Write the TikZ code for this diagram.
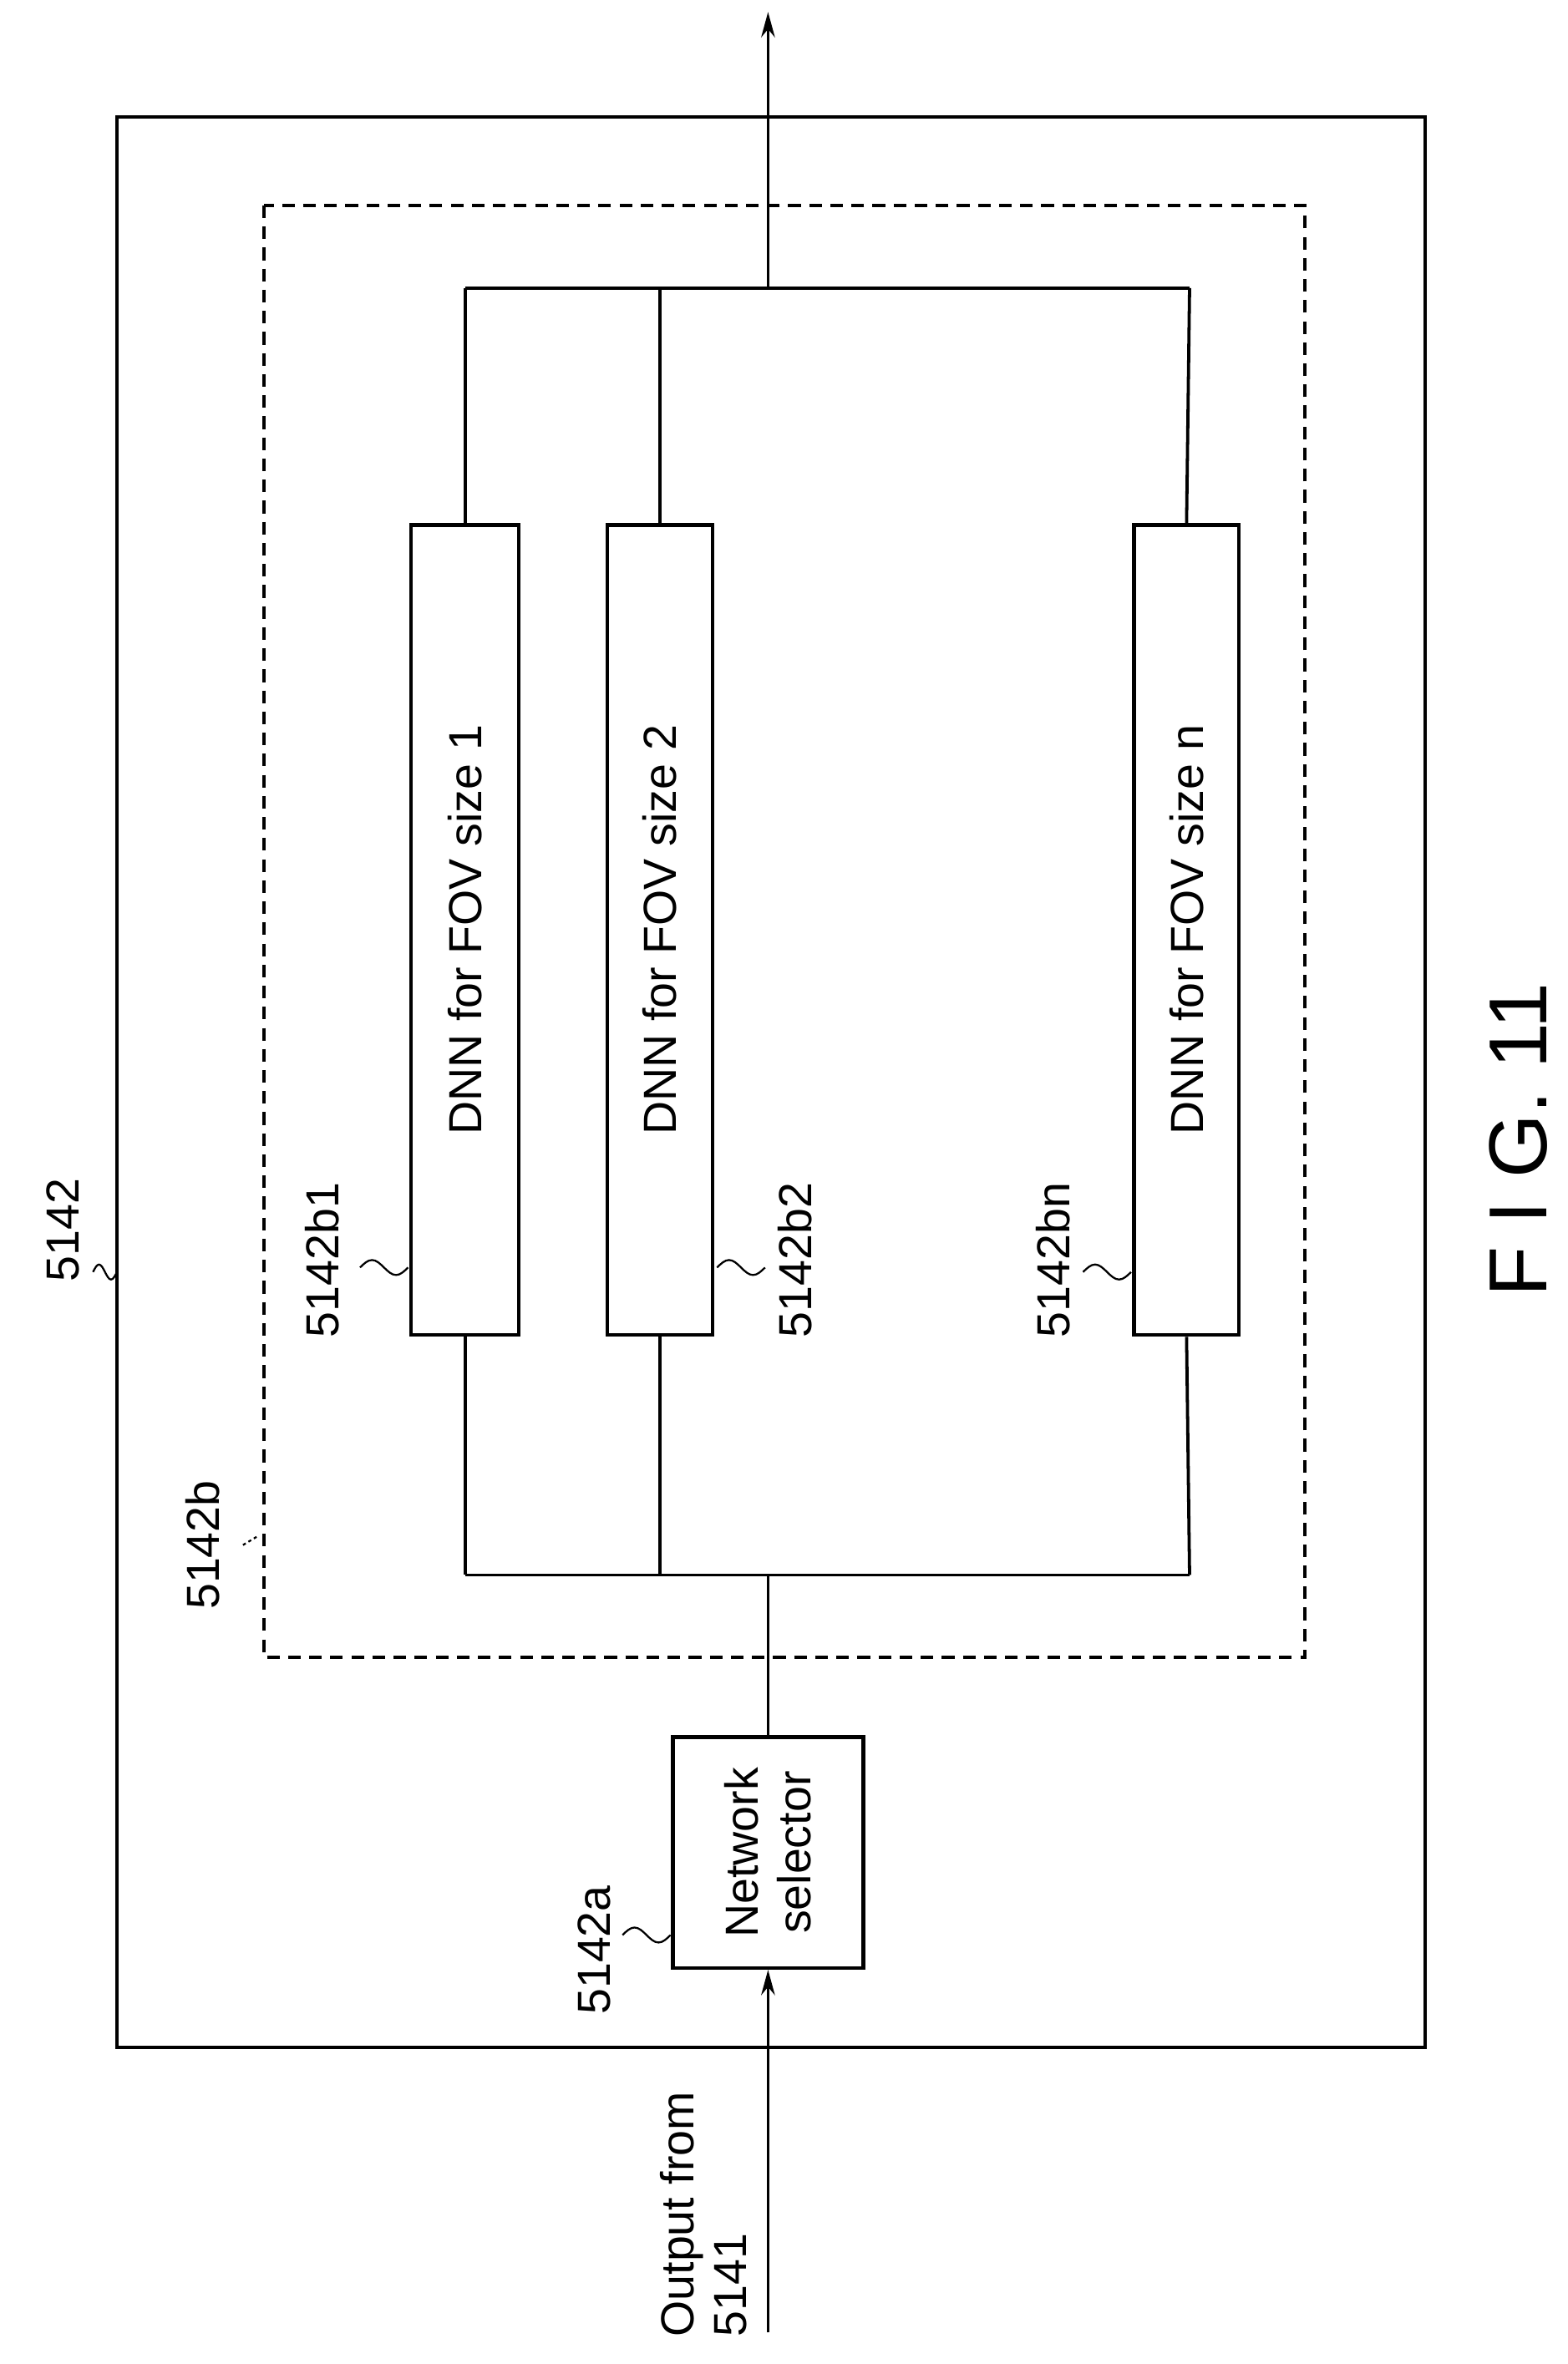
\documentclass[tikz,border=0pt]{standalone}
\usepackage{fontspec}
\setmainfont{Liberation Sans}
\usetikzlibrary{arrows.meta}
\begin{document}
\begin{tikzpicture}[x=0.05cm,y=-0.05cm,
  ln/.style={line width=3pt},
  lbl/.style={rotate=90,font=\fontsize{44}{50}\selectfont,inner sep=0},
  box/.style={draw,line width=3.4pt,fill=white,inner sep=0},
  squig/.style={line width=1.8pt}]
\useasboundingbox (0,0) rectangle (1045,1576);
\draw[line width=3.4pt] (78,78) rectangle (950,1365);
\draw[line width=2.8pt,dash pattern=on 12pt off 8pt] (176,137) rectangle (870,1105);
% buses
\coordinate (t1) at (310,192); \coordinate (tn) at (793,192);
\coordinate (b1) at (310,1050); \coordinate (bn) at (793,1050);
\draw[ln] (t1) -- (tn); \draw[ln] (b1) -- (bn);
\node[box,minimum width=72*0.05cm,minimum height=540*0.05cm] (d1) at (310,620) {};
\node[box,minimum width=70*0.05cm,minimum height=540*0.05cm] (d2) at (440,620) {};
\node[box,minimum width=70*0.05cm,minimum height=540*0.05cm] (dn) at (791,620) {};
\node[lbl] at (d1) {DNN for FOV size 1};
\node[lbl] at (d2) {DNN for FOV size 2};
\node[lbl] at (dn) {DNN for FOV size n};
\draw[ln] (d1.north) -- (t1); \draw[ln] (d1.south) -- (b1);
\draw[ln] (d2.north) -- (440,192); \draw[ln] (d2.south) -- (440,1050);
\draw[ln] (dn.north) -- (tn); \draw[ln] (dn.south) -- (bn);
\node[box,minimum width=127*0.05cm,minimum height=154*0.05cm] (ns) at (512,1235) {};
\node[lbl,align=center] at (ns) {Network\\selector};
\coordinate (in) at (512,1555); \coordinate (out) at (512,8);
\draw[ln,-{Stealth[length=24pt,width=13pt]}] (in) -- (ns.south);
\draw[ln] (ns.north) -- (512,1050);
\draw[ln,-{Stealth[length=24pt,width=13pt]}] (512,192) -- (out);
% labels
\node[lbl] at (42,820) {5142};
\node[lbl] at (215,840) {5142b1};
\node[lbl] at (530,840) {5142b2};
\node[lbl] at (702,840) {5142bn};
\node[lbl] at (135,1030) {5142b};
\node[lbl] at (396,1300) {5142a};
\node[lbl,align=left,anchor=north west] at (440,1558) {Output from\\5141};
\node[rotate=90,font=\fontsize{78}{80}\selectfont,inner sep=0] at (1012,760) {F I G. 11};
% leaders
\draw[squig] (62,848) sin (66,843) cos (70,848) sin (74,853) cos (78,848);
\draw[squig] (240,845) sin (248,840) cos (256,845) sin (264,850) cos (272,845);
\draw[squig] (478,845) sin (486,840) cos (494,845) sin (502,850) cos (510,845);
\draw[squig] (722,848) sin (730,843) cos (738,848) sin (746,853) cos (754,848);
\draw[squig] (415,1290) sin (423,1285) cos (431,1290) sin (439,1295) cos (447,1290);
\draw[squig,dash pattern=on 3pt off 3pt] (162,1030) -- (172,1024);
\end{tikzpicture}
\end{document}
